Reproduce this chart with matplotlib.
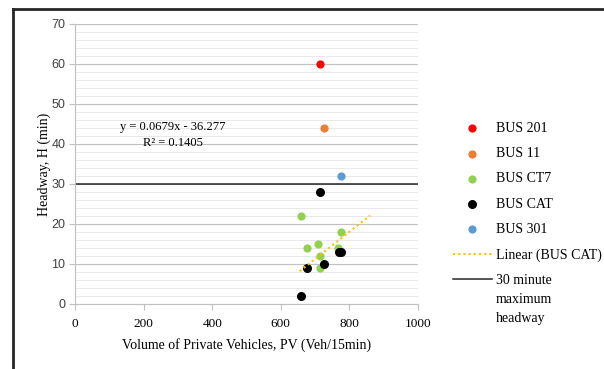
import matplotlib
matplotlib.use("Agg")
import matplotlib.pyplot as plt
from matplotlib.lines import Line2D
import numpy as np

### data
bus201_x = [714]
bus201_y = [60]
bus11_x = [726]
bus11_y = [44]
ct7_x = [660, 775, 675, 707, 714, 714, 767]
ct7_y = [22, 18, 14, 15, 12, 9, 14]
cat_x = [714, 675, 726, 770, 775, 660]
cat_y = [28, 9, 10, 13, 13, 2]
bus301_x = [775]
bus301_y = [32]

trend_slope = 0.0679
trend_icept = -36.277
trend_r2 = 0.1405
trend_xrange = [655, 860]
max_headway = 30

serif = "Liberation Serif"
sans = "Liberation Sans"

fig = plt.figure(figsize=(6.04, 3.69), dpi=100)
ax = fig.add_axes([75 / 604, 65 / 369, 343 / 604, 280 / 369])

ax.scatter(bus201_x, bus201_y, s=24, color="#FF0000", zorder=3, label="BUS 201")
ax.scatter(bus11_x, bus11_y, s=24, color="#ED7D31", zorder=3, label="BUS 11")
ax.scatter(ct7_x, ct7_y, s=24, color="#92D050", zorder=3, label="BUS CT7")
ax.scatter(cat_x, cat_y, s=30, color="black", zorder=3, label="BUS CAT")
ax.scatter(bus301_x, bus301_y, s=24, color="#5B9BD5", zorder=3, label="BUS 301")

tx = np.array(trend_xrange)
ax.plot(tx, trend_slope * tx + trend_icept, color="#FFC000", lw=1.5,
        ls=(0, (1, 1.5)), zorder=4, label="Linear (BUS CAT)")
ax.axhline(max_headway, color="#262626", lw=1.1, zorder=2, label="30 minute")

ax.text(286, 44.2, "y = 0.0679x - 36.277", ha="center", va="center",
        family=serif, fontsize=9)
ax.text(286, 40.2, "R² = {}".format(trend_r2), ha="center", va="center",
        family=serif, fontsize=9)

ax.set_xlim(0, 1000)
ax.set_ylim(0, 70)
ax.set_xticks(range(0, 1001, 200))
ax.set_yticks(range(0, 71, 10))
ax.set_yticks(range(0, 71, 2), minor=True)
ax.grid(axis="y", which="major", color="#c0c0c0", lw=0.8, zorder=0)
ax.grid(axis="y", which="minor", color="#e8e8e8", lw=0.7, zorder=0)
ax.set_axisbelow(True)

for s in ["top", "right"]:
    ax.spines[s].set_visible(False)
for s in ["left", "bottom"]:
    ax.spines[s].set_color("#bfbfbf")
ax.tick_params(axis="both", which="major", color="#bfbfbf", length=4)
ax.tick_params(axis="y", which="minor", length=0)
ax.tick_params(axis="y", labelsize=9, pad=3)
ax.tick_params(axis="x", labelsize=9.5, pad=6)
for t in ax.get_yticklabels():
    t.set_family(sans)
    t.set_color("#404040")
for t in ax.get_xticklabels():
    t.set_family(serif)

ax.set_xlabel("Volume of Private Vehicles, PV (Veh/15min)", family=serif,
              fontsize=10, labelpad=6)
ax.set_ylabel("Headway, H (min)", family=serif, fontsize=10, labelpad=0)

leg = ax.legend(loc="upper left", bbox_to_anchor=(1.102, 0.650), frameon=False,
                prop={"family": serif, "size": 10}, handlelength=2.8,
                handletextpad=0.3, labelspacing=0.88, borderaxespad=0,
                borderpad=0)

# rest of the multi-line legend label, placed under "30 minute"
fig.canvas.draw()
bb = leg.get_texts()[-1].get_window_extent()
fx = bb.x0 / fig.bbox.width
fy = bb.y0 / fig.bbox.height
fig.text(fx, fy - 6 / 369, "maximum\nheadway", ha="left", va="top",
         family=serif, fontsize=10, linespacing=1.62)

# chart frame
fig.add_artist(Line2D([13 / 604, 13 / 604], [0, 1 - 8.5 / 369],
                      transform=fig.transFigure, color="#262626", lw=2))
fig.add_artist(Line2D([13 / 604, 1], [1 - 8.5 / 369, 1 - 8.5 / 369],
                      transform=fig.transFigure, color="#262626", lw=2))

fig.savefig("out.png", dpi=100)
